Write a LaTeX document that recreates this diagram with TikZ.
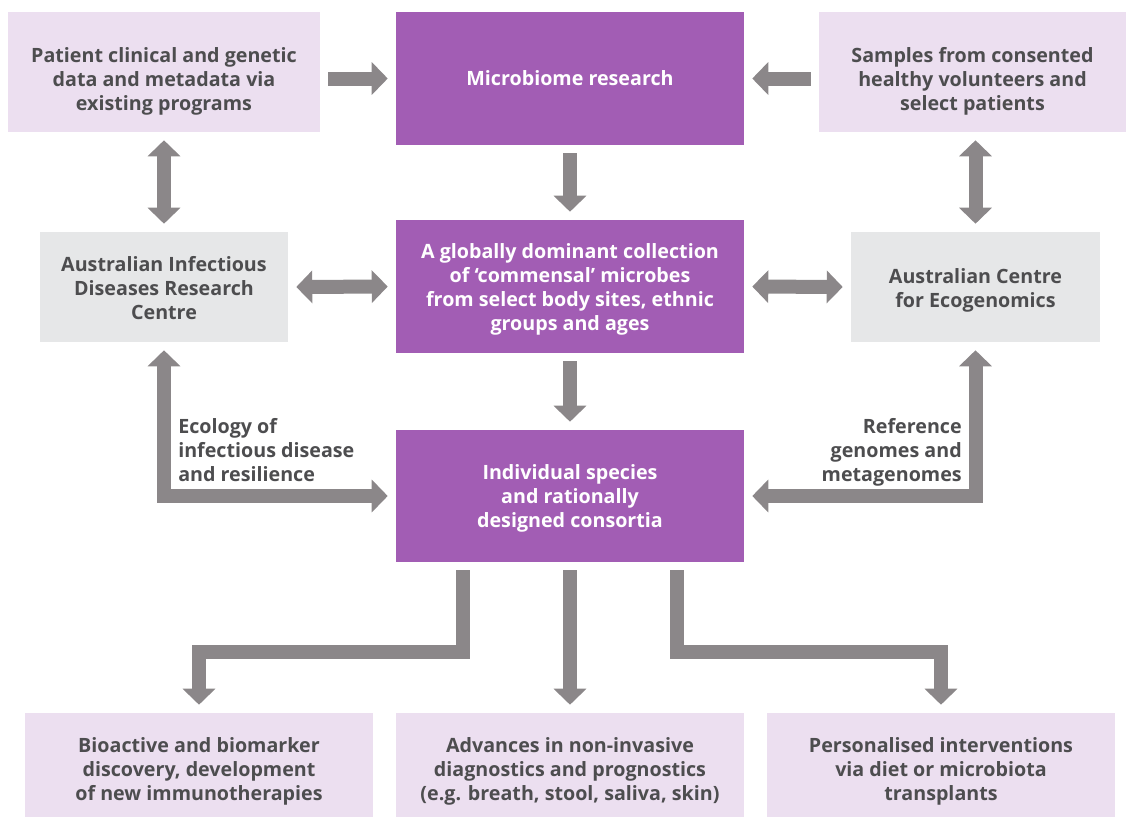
\documentclass[tikz,border=0pt]{standalone}
\usepackage{fontspec}
\setmainfont{Open Sans}
\usetikzlibrary{arrows.meta}
\definecolor{lilac}{RGB}{162,93,180}
\definecolor{pinkbg}{RGB}{236,223,240}
\definecolor{greybg}{RGB}{230,231,232}
\definecolor{arrowgrey}{RGB}{139,135,137}
\definecolor{textgrey}{RGB}{77,77,79}
\tikzset{
  boxtext/.style={inner sep=0pt, align=center, text=textgrey, font=\fontsize{14}{17.07}\selectfont\bfseries},
  words/.style 2 args={label={[boxtext, yshift=#1*0.025cm]center:{#2}}},
  whitewords/.style 2 args={label={[boxtext, text=white, yshift=#1*0.025cm]center:{#2}}},
  pinkbox/.style={inner sep=0pt, fill=pinkbg},
  greybox/.style={inner sep=0pt, fill=greybg},
  purplebox/.style={inner sep=0pt, fill=lilac, minimum width=348*0.025cm, minimum height=133*0.025cm},
  wide/.style={arrowgrey, line width=14*0.025cm, line join=miter, shorten <=8*0.025cm, shorten >=8*0.025cm},
  fat/.style={wide, -{Triangle[width=32*0.025cm, length=16*0.025cm]}},
  fatboth/.style={wide, {Triangle[width=32*0.025cm, length=16*0.025cm]}-{Triangle[width=32*0.025cm, length=16*0.025cm]}},
  note/.style={inner sep=0pt, text=textgrey, font=\fontsize{14}{17.07}\selectfont\bfseries}
}
\begin{document}
\begin{tikzpicture}[x=0.025cm, y=-0.025cm]
  \useasboundingbox (0,0) rectangle (1126,817);
  % top row
  \node[pinkbox, minimum width=312*0.025cm, minimum height=120*0.025cm,
    words={-9}{Patient clinical and genetic\\data and metadata via\\existing programs}] (data) at (164,72) {};
  \node[purplebox, whitewords={0}{Microbiome research}] (micro) at (570,78.5) {};
  \node[pinkbox, minimum width=307*0.025cm, minimum height=120*0.025cm,
    words={-9}{Samples from consented\\healthy volunteers and\\select patients}] (samples) at (972.5,72) {};
  % middle row
  \node[greybox, minimum width=248*0.025cm, minimum height=110*0.025cm,
    words={-1}{Australian Infectious\\Diseases Research\\Centre}] (aidrc) at (164,287) {};
  \node[purplebox, whitewords={-3}{A globally dominant collection\\of `commensal' microbes\\from select body sites, ethnic\\groups and ages}] (collection) at (570,286.5) {};
  \node[greybox, minimum width=249*0.025cm, minimum height=110*0.025cm,
    words={-3}{Australian Centre\\for Ecogenomics}] (ace) at (975.5,287) {};
  \node[purplebox, minimum height=132*0.025cm,
    whitewords={-2}{Individual species\\and rationally\\designed consortia}] (species) at (570,496) {};
  % bottom row
  \node[pinkbox, minimum width=348*0.025cm, minimum height=104*0.025cm,
    words={-6}{Bioactive and biomarker\\discovery, development\\of new immunotherapies}] (bioactive) at (199,765) {};
  \node[pinkbox, minimum width=348*0.025cm, minimum height=104*0.025cm,
    words={-6}{Advances in non-invasive\\diagnostics and prognostics\\(e.g. breath, stool, saliva, skin)}] (advances) at (570,765) {};
  \node[pinkbox, minimum width=348*0.025cm, minimum height=104*0.025cm,
    words={-6}{Personalised interventions\\via diet or microbiota\\transplants}] (personal) at (941,765) {};
  % labels on the elbows
  \node[note, anchor=north west, align=left] (ecolabel) at (178,418)
    {Ecology of\\infectious disease\\and resilience};
  \node[note, anchor=north east, align=right] (reflabel) at (962,418)
    {Reference\\genomes and\\metagenomes};
  % arrows
  \draw[fat] (data.east |- micro.west) -- (micro.west);
  \draw[fat] (samples.west |- micro.east) -- (micro.east);
  \draw[fat] (micro.south) -- (collection.north);
  \draw[fat] (collection.south) -- (species.north);
  \draw[fatboth] (data.south) -- (aidrc.north);
  \draw[fatboth] (ace.north |- samples.south) -- (ace.north);
  \draw[fatboth] (aidrc.east) -- (collection.west);
  \draw[fatboth] (collection.east) -- (ace.west);
  \draw[fatboth] (aidrc.south) |- (species.west);
  \draw[fatboth] (ace.south) |- (species.east);
  \coordinate (bl) at (463,652);
  \coordinate (br) at (677,652);
  \draw[fat] (species.south -| bl) -- (bl) -| (bioactive.north);
  \draw[fat] (species.south) -- (advances.north);
  \draw[fat] (species.south -| br) -- (br) -| (personal.north);
\end{tikzpicture}
\end{document}
